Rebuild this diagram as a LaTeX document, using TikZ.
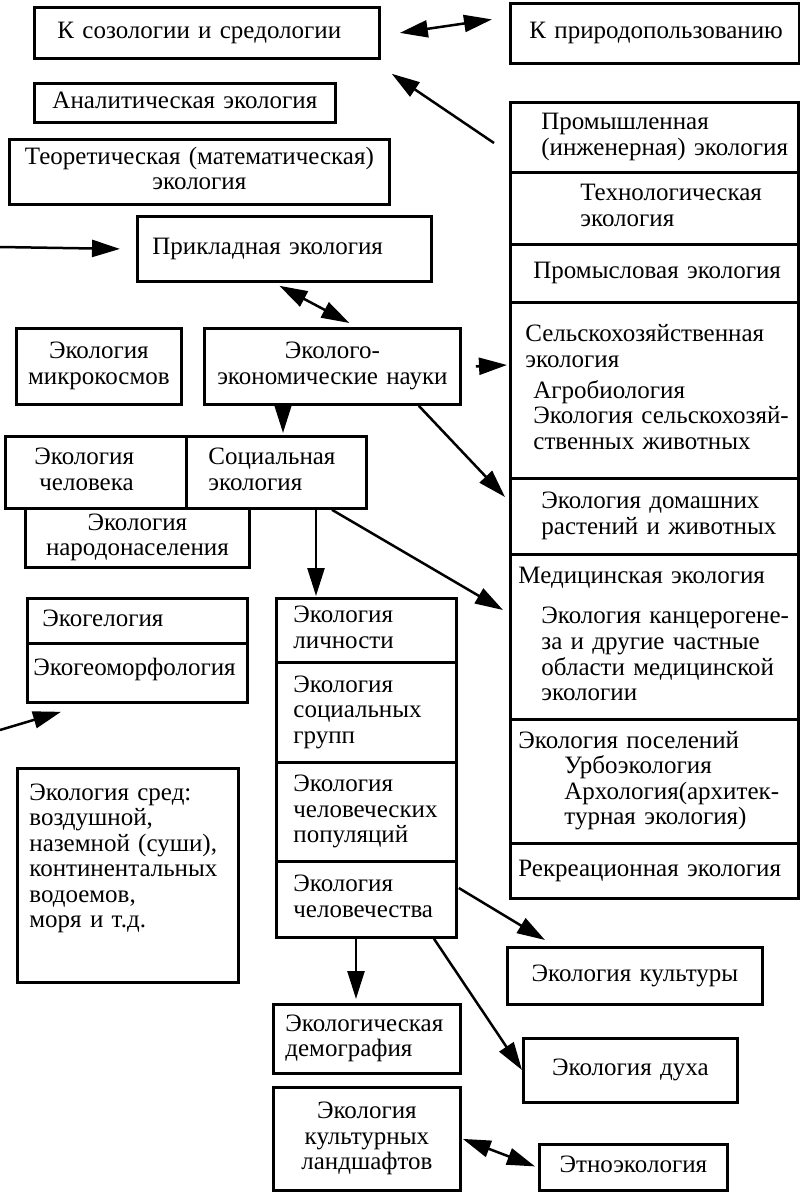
\documentclass[tikz,border=0pt]{standalone}
\usepackage{fontspec}
\setmainfont{Liberation Serif}
\usetikzlibrary{arrows.meta}
\newcommand{\lbx}[2]{\hspace*{#1}\begin{tabular}{@{}l@{}}#2\end{tabular}}
\newcommand{\cbx}[1]{\begin{tabular}{@{}c@{}}#1\end{tabular}}
\tikzset{
  box/.style={draw, line width=2.8pt, inner sep=0pt, anchor=north west,
    font=\fontsize{25}{25.5}\selectfont},
  lb/.style={box, align=left},
  cb/.style={box, align=center},
  arr/.style={line width=2.5pt, -{Triangle[length=28pt,width=17pt]}},
  darr/.style={line width=2.5pt, {Triangle[length=28pt,width=17pt]}-{Triangle[length=28pt,width=17pt]}}
}
\begin{document}
\begin{tikzpicture}[x=1pt,y=-1pt]
\fill[white] (0,0) rectangle (800,1192);
\useasboundingbox (0,0) rectangle (800,1192);
% top
\node[lb, text width=345pt, minimum height=51pt] (soz) at (33,6) {\lbx{23pt}{К созологии и средологии}};
\node[lb, text width=289pt, minimum height=60pt] (prir) at (509,2) {\lbx{19pt}{К природопользованию}};
\node[cb, text width=301pt, minimum height=39pt] (anal) at (33,82) {\cbx{Аналитическая экология}};
\node[cb, text width=380pt, minimum height=65pt] (teor) at (8,138) {\cbx{Теоретическая (математическая)\\экология}};
\node[lb, text width=294pt, minimum height=65pt] (prikl) at (136,215) {\lbx{15pt}{Прикладная экология}};
% right column
\node[lb, text width=288pt, minimum height=70pt] (prom) at (509,101) {\lbx{31pt}{Промышленная\\(инженерная) экология}};
\node[lb, text width=288pt, minimum height=72pt] (tech) at (509,171) {\lbx{70pt}{Технологическая\\экология}};
\node[lb, text width=288pt, minimum height=58pt] (promys) at (509,243) {\lbx{23pt}{Промысловая экология}};
\node[lb, text width=288pt, minimum height=176pt] (selsk) at (509,301) {\lbx{15pt}{Сельскохозяйственная\\экология\\[5pt]\hspace*{8pt}Агробиология\\\hspace*{8pt}Экология сельскохозяй-\\\hspace*{8pt}ственных животных}};
\node[lb, text width=288pt, minimum height=76pt] (domash) at (509,477) {\lbx{31pt}{Экология домашних\\растений и животных}};
\node[lb, text width=288pt, minimum height=165pt] (med) at (509,553) {\lbx{8pt}{Медицинская экология\\[15pt]\hspace*{23pt}Экология канцерогене-\\\hspace*{23pt}за и другие частные\\\hspace*{23pt}области медицинской\\\hspace*{23pt}экологии}};
\node[lb, text width=288pt, minimum height=124pt] (posel) at (509,718) {\lbx{8pt}{Экология поселений\\\hspace*{46pt}Урбоэкология\\\hspace*{46pt}Архология(архитек-\\\hspace*{46pt}турная экология)}};
\node[lb, text width=288pt, minimum height=55pt] (rekr) at (509,842) {\lbx{8pt}{Рекреационная экология}};
% middle
\node[cb, text width=165pt, minimum height=76pt] (mikro) at (15,327) {\cbx{Экология\\микрокосмов}};
\node[cb, text width=256pt, minimum height=76pt] (ekoek) at (203,327) {\cbx{Эколого-\\экономические науки}};
\node[lb, text width=181pt, minimum height=72pt] (chel) at (4,435) {\lbx{29pt}{Экология\\\hspace*{5pt}человека}};
\node[lb, text width=180pt, minimum height=72pt] (soc) at (185,435) {\lbx{22pt}{Социальная\\экология}};
\node[cb, text width=224pt, minimum height=59pt] (narod) at (24,507) {\cbx{Экология\\народонаселения}};
\node[lb, text width=220pt, minimum height=45pt] (geol) at (26,597) {\lbx{15pt}{Экогелогия}};
\node[lb, text width=220pt, minimum height=59pt] (geom) at (26,642) {\lbx{6pt}{\raisebox{5pt}{Экогеоморфология}}};
\node[lb, text width=221pt, minimum height=214pt] (sred) at (16,767) {\lbx{12pt}{Экология сред:\\воздушной,\\наземной (суши),\\континентальных\\водоемов,\\моря и т.д.\\[8pt]\mbox{}}};
\node[lb, text width=180pt, minimum height=64pt] (lichn) at (275,597) {\lbx{17pt}{Экология\\личности}};
\node[lb, text width=180pt, minimum height=100pt] (grupp) at (275,661) {\lbx{17pt}{Экология\\социальных\\групп}};
\node[lb, text width=180pt, minimum height=99pt] (popul) at (275,761) {\lbx{17pt}{Экология\\человеческих\\популяций}};
\node[lb, text width=180pt, minimum height=76pt] (chelov) at (275,860) {\lbx{17pt}{Экология\\человечества}};
% bottom
\node[cb, text width=255pt, minimum height=57pt] (kult) at (506,946) {\cbx{Экология культуры}};
\node[lb, text width=187pt, minimum height=69pt] (demogr) at (272,1003) {\lbx{12pt}{Экологическая\\демография}};
\node[cb, text width=214pt, minimum height=64pt] (dukh) at (522,1037) {\cbx{Экология духа}};
\node[cb, text width=187pt, minimum height=103pt] (landsh) at (272,1086) {\cbx{Экология\\культурных\\ландшафтов}};
\node[cb, text width=188pt, minimum height=46pt] (etno) at (538,1143) {\cbx{Этноэкология}};
% free ends
\coordinate (inA) at (0,247);
\coordinate (inB) at (0,730);
% connectors
\draw[darr] ([shift={(19,0)}]soz.east) -- ([shift={(-17,-14)}]prir.west);
\draw[arr] ([shift={(-15,42)}]prom.north west) -- ([shift={(11,14)}]soz.south east);
\draw[arr] (inA) -- ([shift={(-16,0)}]prikl.west);
\draw[darr] ([shift={(-5,3)}]prikl.south) -- ([shift={(17,-4)}]ekoek.north);
\draw[arr] ([shift={(14,0)}]ekoek.east) -- ([shift={(-2,64)}]selsk.north west);
\draw[arr] ([shift={(80,0)}]ekoek.south west) -- ([shift={(98,-2)}]soc.north west);
\draw[arr] ([shift={(-43,0)}]ekoek.south east) -- ([shift={(-4,20)}]domash.north west);
\draw[arr] ([shift={(131,0)}]soc.south west) -- ([shift={(41,-1)}]lichn.north west);
\draw[arr] ([shift={(147,0)}]soc.south west) -- ([shift={(-6,57)}]med.north west);
\draw[arr] (inB) -- ([shift={(35,8)}]geom.south west);
\draw[arr] ([shift={(1,28)}]chelov.north east) -- ([shift={(39,-6)}]kult.north west);
\draw[arr] ([shift={(81,0)}]chelov.south west) -- ([shift={(84,-4)}]demogr.north west);
\draw[arr] ([shift={(159,0)}]chelov.south west) -- ([shift={(0,33)}]dukh.north west);
\draw[darr] ([shift={(1,0)}]landsh.east) -- ([shift={(-3,-1)}]etno.west);
\end{tikzpicture}
\end{document}
